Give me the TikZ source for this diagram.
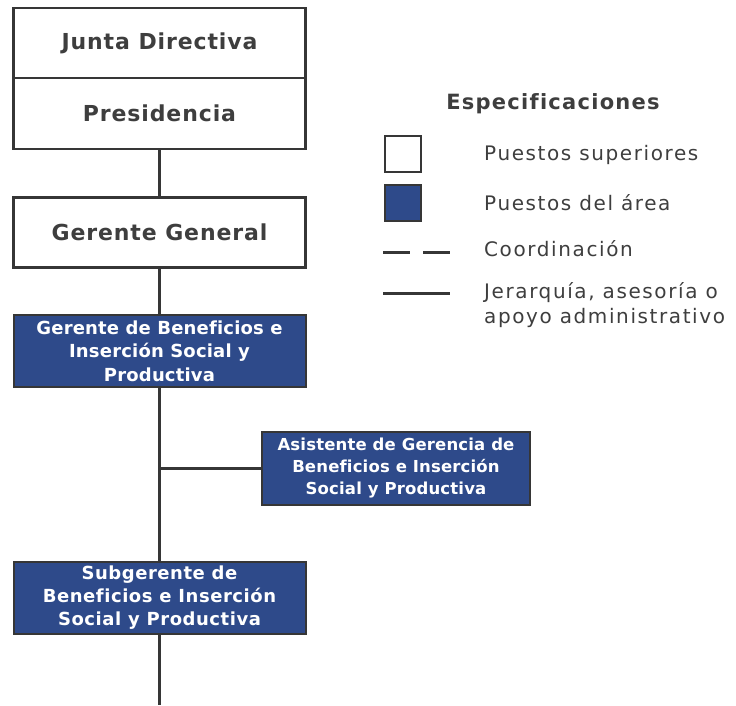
\documentclass[tikz,border=0pt]{standalone}
\usepackage{fontspec}
\setmainfont{DejaVu Sans}[Ligatures=CommonOff]
\definecolor{linegray}{HTML}{363636}
\definecolor{textgray}{HTML}{3E3E3E}
\definecolor{areablue}{HTML}{2E4A8A}
\tikzset{
  topbox/.style={draw=linegray, line width=2.5pt, fill=white, text=textgray,
    minimum width=292pt, minimum height=70pt, inner sep=0pt,
    font=\fontsize{22}{26}\selectfont\bfseries\addfontfeature{LetterSpace=4}},
  areabox/.style={draw=linegray, line width=2pt, fill=areablue, text=white,
    minimum width=292pt, minimum height=72pt, inner sep=0pt, align=center,
    font=\fontsize{18}{23.5}\selectfont\bfseries\addfontfeature{LetterSpace=1}},
  legtext/.style={anchor=west, text=textgray, inner sep=0pt, align=left,
    font=\fontsize{20}{25}\selectfont\addfontfeature{LetterSpace=8}},
  legbox/.style={draw=linegray, line width=2pt, minimum size=36pt, inner sep=0pt},
  trunk/.style={draw=linegray, line width=3pt}
}
\begin{document}
\begin{tikzpicture}[x=1pt, y=-1pt]
\useasboundingbox (0,0) rectangle (736,705);
\node[topbox] (junta) at (159.5,43) {Junta Directiva};
\node[topbox, minimum height=71pt] (presi) at (159.5,113.5) {Presidencia};
\node[topbox] (gergen) at (159.5,232.5) {Gerente General};
\node[areabox] (gerben) at (159.5,351) {Gerente de Beneficios e\\Inserción Social y\\Productiva};
\node[areabox, minimum width=268pt, minimum height=73pt,
  font=\fontsize{16.5}{22}\selectfont\bfseries\addfontfeature{LetterSpace=1}]
  (asist) at (396,468.5) {Asistente de Gerencia de\\Beneficios e Inserción\\Social y Productiva};
\node[areabox, font=\fontsize{18}{23}\selectfont\bfseries\addfontfeature{LetterSpace=3}]
  (subger) at (159.5,598) {Subgerente de\\Beneficios e Inserción\\Social y Productiva};
\coordinate (fin) at (159.5,705);
\draw[trunk] (presi.south) -- (gergen.north);
\draw[trunk] (gergen.south) -- (gerben.north);
\draw[trunk] (gerben.south) -- (subger.north);
\draw[trunk] (asist.west) -- (asist.west -| gerben.south);
\draw[trunk] (subger.south) -- (fin);

\node[text=textgray, font=\fontsize{21}{24}\selectfont\bfseries\addfontfeature{LetterSpace=6}]
  (espec) at (553,104) {Especificaciones};
\node[legbox, fill=white] (legsup) at (403,154) {};
\node[legbox, fill=areablue] (legarea) at (403,203) {};
\coordinate (coordA) at (383,252);
\coordinate (coordB) at (450,252);
\coordinate (jerA) at (383,293);
\coordinate (jerB) at (450,293);
\draw[trunk, dash pattern=on 27pt off 13pt] (coordA) -- (coordB);
\draw[trunk] (jerA) -- (jerB);
\node[legtext] (txtsup) at (484,155) {Puestos superiores};
\node[legtext] (txtarea) at (484,203) {Puestos del área};
\node[legtext] (txtcoord) at (484,249) {Coordinación};
\node[legtext] (txtjer) at (484,305) {Jerarquía, asesoría o\\apoyo administrativo};
\end{tikzpicture}
\end{document}
